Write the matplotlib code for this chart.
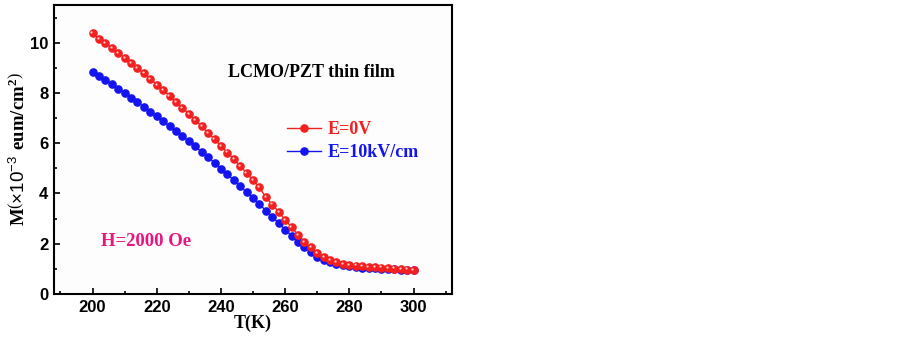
import matplotlib.pyplot as plt
import matplotlib.transforms as mtransforms
from matplotlib.ticker import MultipleLocator

# temperature (K)
temp = list(range(200, 302, 2))

# magnetization, E = 0 V
m_0v = [10.37, 10.16, 10.00, 9.80, 9.60, 9.40, 9.20, 8.98, 8.78, 8.57,
        8.33, 8.11, 7.89, 7.65, 7.41, 7.17, 6.92, 6.67, 6.41, 6.16,
        5.90, 5.63, 5.37, 5.09, 4.81, 4.53, 4.24, 3.84, 3.56, 3.27,
        2.95, 2.66, 2.36, 2.08, 1.85, 1.63, 1.47, 1.35, 1.26, 1.20,
        1.16, 1.13, 1.10, 1.08, 1.06, 1.05, 1.02, 1.01, 1.00, 0.97, 0.94]

# magnetization, E = 10 kV/cm
m_10kv = [8.84, 8.69, 8.51, 8.35, 8.17, 7.99, 7.81, 7.64, 7.45, 7.26,
          7.07, 6.88, 6.68, 6.48, 6.28, 6.08, 5.87, 5.66, 5.44, 5.22,
          4.99, 4.77, 4.53, 4.29, 4.05, 3.81, 3.57, 3.32, 3.07, 2.82,
          2.56, 2.32, 2.07, 1.87, 1.66, 1.49, 1.35, 1.26, 1.20, 1.14,
          1.10, 1.08, 1.05, 1.04, 1.02, 1.01, 1.00, 0.98, 0.97, 0.96, 0.94]

labels = ["E=0V", "E=10kV/cm"]

serif = "Liberation Serif"
sans = "Liberation Sans"

plt.rcParams["mathtext.fontset"] = "custom"
plt.rcParams["mathtext.rm"] = serif
plt.rcParams["mathtext.bf"] = serif + ":bold"
plt.rcParams["mathtext.sf"] = sans

fig = plt.figure(figsize=(9.03, 3.42), dpi=100)
ax = fig.add_axes([0.0598, 0.1404, 0.4408, 0.845])
ax.set_facecolor("#fdfdfd")

red = "#f42020"
blue = "#1414f0"

ax.plot(temp, m_0v, "-o", color=red, lw=1.0, ms=5.2, mec=red, label=labels[0], zorder=3)
# little highlight on the red balls
hl = mtransforms.offset_copy(ax.transData, fig=fig, x=-0.8, y=0.8, units="points")
ax.plot(temp, m_0v, "o", color="#ffd0d0", ms=1.6, mec="none", transform=hl, zorder=4)
ax.plot(temp, m_10kv, "-o", color=blue, lw=1.0, ms=5.2, mec=blue, label=labels[1], zorder=2)

ax.set_xlim(188, 312)
ax.set_ylim(0, 11.5)
ax.xaxis.set_major_locator(MultipleLocator(20))
ax.xaxis.set_minor_locator(MultipleLocator(10))
ax.yaxis.set_major_locator(MultipleLocator(2))
ax.yaxis.set_minor_locator(MultipleLocator(1))
ax.tick_params(which="both", direction="in", top=False, right=False, width=1.2, pad=4)
ax.tick_params(which="major", length=4)
ax.tick_params(which="minor", length=2.5)
for lab in ax.get_xticklabels() + ax.get_yticklabels():
    lab.set_fontfamily(sans)
    lab.set_fontweight("bold")
    lab.set_fontsize(12)
for s in ax.spines.values():
    s.set_linewidth(1.5)

ax.set_xlabel("T(K)", fontfamily=serif, fontweight="bold", fontsize=13, labelpad=0)
ax.set_ylabel(r"M$\left(\mathsf{\times10^{-3}}\ \mathbf{eum/cm^2}\right)$", fontfamily=serif,
              fontweight="bold", fontsize=13.5, labelpad=1)

ax.text(0.648, 0.765, "LCMO/PZT thin film", transform=ax.transAxes, ha="center", va="center",
        fontfamily=serif, fontweight="bold", fontsize=13)
ax.text(0.232, 0.183, "H=2000 Oe", transform=ax.transAxes, ha="center", va="center",
        fontfamily=serif, fontweight="bold", fontsize=13.5, color="#e8147f")

leg = ax.legend(loc="upper left", bbox_to_anchor=(0.545, 0.655), frameon=False,
                handlelength=1.9, handletextpad=0.35, labelspacing=0.35,
                prop={"family": serif, "weight": "bold", "size": 13},
                labelcolor="linecolor", markerscale=1.0)

fig.savefig("out.png", dpi=100)
